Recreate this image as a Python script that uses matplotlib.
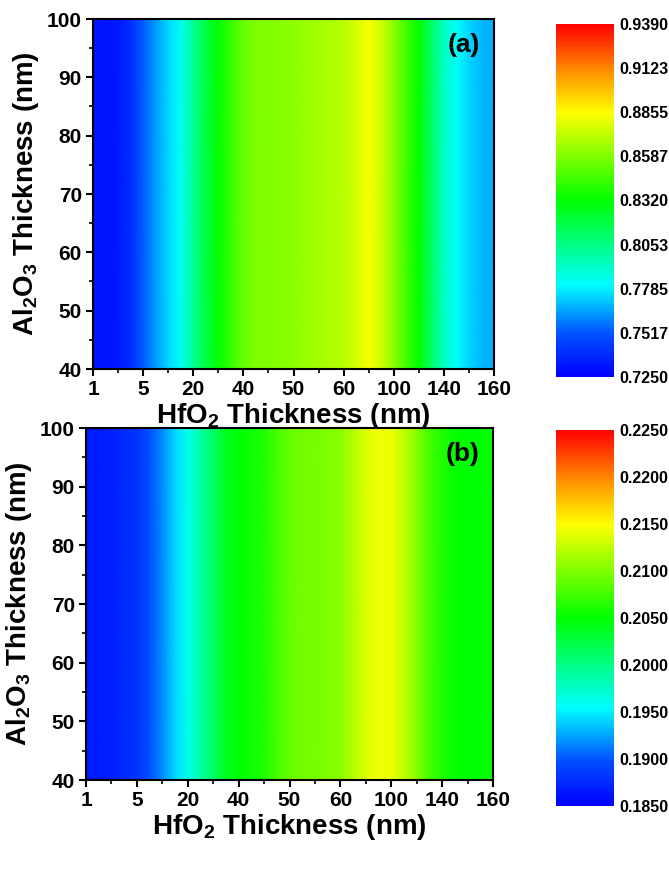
import numpy as np
import matplotlib
matplotlib.use("Agg")
import matplotlib.pyplot as plt
from matplotlib import font_manager
from matplotlib.colors import LinearSegmentedColormap, Normalize
from matplotlib.ticker import FixedLocator, MultipleLocator, FixedFormatter

# ---------------- data ----------------
hfo2_ticks = [1, 5, 20, 40, 50, 60, 100, 140, 160]
hfo2_tick_labels = ["1", "5", "20", "40", "50", "60", "100", "140", "160"]
hfo2_samples = [1, 2, 3, 4, 5, 8.75, 12.5, 16.25, 20, 25, 30, 35, 40,
                42.5, 45, 47.5, 50, 52.5, 55, 57.5, 60, 70, 80, 90, 100,
                110, 120, 130, 140, 145, 150, 155, 160]
al2o3_samples = [40, 100]

values_a = [0.732, 0.732, 0.733, 0.740, 0.753, 0.764, 0.774, 0.783, 0.802,
            0.819, 0.832, 0.843, 0.853, 0.858, 0.859, 0.860, 0.862, 0.864,
            0.866, 0.868, 0.870, 0.877, 0.884, 0.875, 0.861, 0.845, 0.832,
            0.812, 0.793, 0.782, 0.774, 0.769, 0.766]
values_b = [0.1866, 0.1866, 0.1870, 0.1875, 0.1882, 0.1898, 0.1918, 0.1942,
            0.1962, 0.1986, 0.2014, 0.2038, 0.2050, 0.2055, 0.2062, 0.2078,
            0.2090, 0.2094, 0.2096, 0.2100, 0.2104, 0.2120, 0.2135, 0.2145,
            0.2143, 0.2125, 0.2102, 0.2078, 0.2062, 0.2053, 0.2050, 0.2050,
            0.2052]

cbar_ticks_a = [0.7250, 0.7517, 0.7785, 0.8053, 0.8320, 0.8587, 0.8855, 0.9123, 0.9390]
cbar_ticks_b = [0.1850, 0.1900, 0.1950, 0.2000, 0.2050, 0.2100, 0.2150, 0.2200, 0.2250]
panel_labels = ["(a)", "(b)"]

# ---------------- fonts ----------------
avail = {f.name for f in font_manager.fontManager.ttflist}
fam = "Liberation Sans Narrow" if "Liberation Sans Narrow" in avail else "Liberation Sans"
plt.rcParams["font.family"] = [fam, "DejaVu Sans"]
plt.rcParams["font.weight"] = "bold"
plt.rcParams["mathtext.fontset"] = "custom"
plt.rcParams["mathtext.rm"] = f"{fam}:bold"
plt.rcParams["mathtext.it"] = f"{fam}:bold"
plt.rcParams["mathtext.bf"] = f"{fam}:bold"

cmap = LinearSegmentedColormap.from_list(
    "origin_rainbow",
    [(0.0, (0, 0, 1)), (0.12, (0, 80/255, 1)), (0.26, (0, 1, 1)),
     (0.5, (0, 1, 0)), (0.75, (1, 1, 0)), (0.87, (1, 140/255, 0)),
     (1.0, (1, 0, 0))])

idx = np.arange(len(hfo2_ticks), dtype=float)


def fwd(x):
    return np.interp(x, hfo2_ticks, idx)


def inv(x):
    return np.interp(x, idx, hfo2_ticks)


fig = plt.figure(figsize=(6.69, 8.8), dpi=100)

W, H = 669, 880


def rect(l, t, r, b):
    return [l / W, 1 - b / H, (r - l) / W, (b - t) / H]


panels = [
    dict(ax=rect(93, 19, 494, 369), cax=rect(556, 24, 614, 377),
         vals=values_a, ticks=cbar_ticks_a),
    dict(ax=rect(86, 428, 493, 780), cax=rect(556, 430, 614, 806),
         vals=values_b, ticks=cbar_ticks_b),
]

for p, lab in zip(panels, panel_labels):
    ax = fig.add_axes(p["ax"])
    ax.set_xscale("function", functions=(fwd, inv))
    Z = np.tile(np.asarray(p["vals"]), (len(al2o3_samples), 1))
    norm = Normalize(vmin=p["ticks"][0], vmax=p["ticks"][-1])
    mesh = ax.pcolormesh(hfo2_samples, al2o3_samples, Z, cmap=cmap,
                         norm=norm, shading="gouraud")
    ax.set_xlim(hfo2_ticks[0], hfo2_ticks[-1])
    ax.set_ylim(40, 100)
    ax.xaxis.set_major_locator(FixedLocator(hfo2_ticks))
    ax.xaxis.set_major_formatter(FixedFormatter(hfo2_tick_labels))
    ax.xaxis.set_minor_locator(FixedLocator(inv(idx[:-1] + 0.5)))
    ax.yaxis.set_major_locator(MultipleLocator(10))
    ax.yaxis.set_minor_locator(MultipleLocator(5))
    ax.tick_params(which="major", direction="out", length=5, width=1.5,
                   labelsize=15, pad=3)
    ax.tick_params(which="minor", direction="out", length=3, width=1.2)
    for s in ax.spines.values():
        s.set_linewidth(1.5)
    ax.set_xlabel(r"HfO$_2$ Thickness (nm)", fontsize=20, fontweight="bold",
                  labelpad=1)
    ax.set_ylabel(r"Al$_2$O$_3$ Thickness (nm)", fontsize=20,
                  fontweight="bold", labelpad=4)
    ax.text(0.925, 0.925, lab, transform=ax.transAxes, fontsize=19,
            fontweight="bold", ha="center", va="center")

    cax = fig.add_axes(p["cax"])
    cb = fig.colorbar(mesh, cax=cax, ticks=p["ticks"])
    cb.outline.set_visible(False)
    cb.ax.set_yticklabels([f"{t:.4f}" for t in p["ticks"]])
    cb.ax.tick_params(length=0, labelsize=11.5, pad=4)

fig.savefig("out.png", dpi=100)
